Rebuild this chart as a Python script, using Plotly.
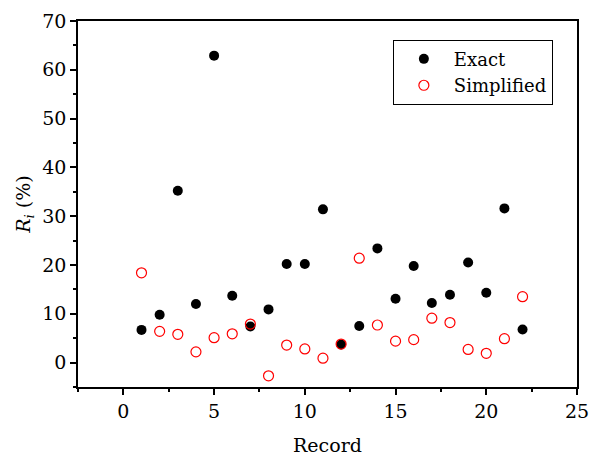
import plotly.graph_objects as go

records = list(range(1, 23))
exact = [6.7, 9.8, 35.2, 12.0, 62.9, 13.7, 7.4, 10.9, 20.2, 20.2, 31.4,
         3.7, 7.5, 23.4, 13.1, 19.8, 12.2, 13.9, 20.5, 14.3, 31.6, 6.8]
simplified = [18.4, 6.4, 5.8, 2.2, 5.1, 5.9, 7.9, -2.7, 3.6, 2.8, 0.9,
              3.8, 21.4, 7.7, 4.4, 4.7, 9.1, 8.2, 2.7, 1.9, 4.9, 13.5]

FONT = "DejaVu Serif"

fig = go.Figure()
fig.add_trace(go.Scatter(
    x=records, y=exact, mode="markers", name="Exact",
    marker=dict(symbol="circle", size=10, color="black",
                line=dict(width=0))))
fig.add_trace(go.Scatter(
    x=records, y=simplified, mode="markers", name="Simplified",
    marker=dict(symbol="circle-open", size=10, color="red",
                line=dict(width=1.2, color="red"))))

axis_common = dict(
    showline=True, linecolor="black", linewidth=1.5, mirror=True,
    ticks="outside", ticklen=6, tickwidth=1.5, tickcolor="black",
    showgrid=False, zeroline=False, automargin=False,
    tickfont=dict(family=FONT, size=19, color="black"),
)

fig.update_xaxes(
    range=[-2.5, 25], dtick=5, tick0=0,
    minor=dict(dtick=2.5, ticklen=3, tickwidth=1.5, tickcolor="black", showgrid=False),
    title=dict(text="Record", font=dict(family=FONT, size=19, color="black"), standoff=18),
    **axis_common)
fig.update_yaxes(
    range=[-5, 70], dtick=10, tick0=0,
    minor=dict(dtick=5, ticklen=3, tickwidth=1.5, tickcolor="black", showgrid=False),
    title=dict(text="<i>R<sub>i</sub></i> (%)", font=dict(family=FONT, size=19, color="black"), standoff=7),
    **axis_common)

fig.update_layout(
    width=590, height=457,
    margin=dict(l=78, r=13, t=21, b=70, autoexpand=False),
    paper_bgcolor="white", plot_bgcolor="white",
    font=dict(family=FONT, color="black"),
    legend=dict(
        x=0.631, y=0.949, xanchor="left", yanchor="top",
        bordercolor="black", borderwidth=1, bgcolor="white",
        font=dict(family=FONT, size=18, color="black"),
        itemwidth=50,
    ),
    showlegend=True,
)

fig.write_html("out.html")
